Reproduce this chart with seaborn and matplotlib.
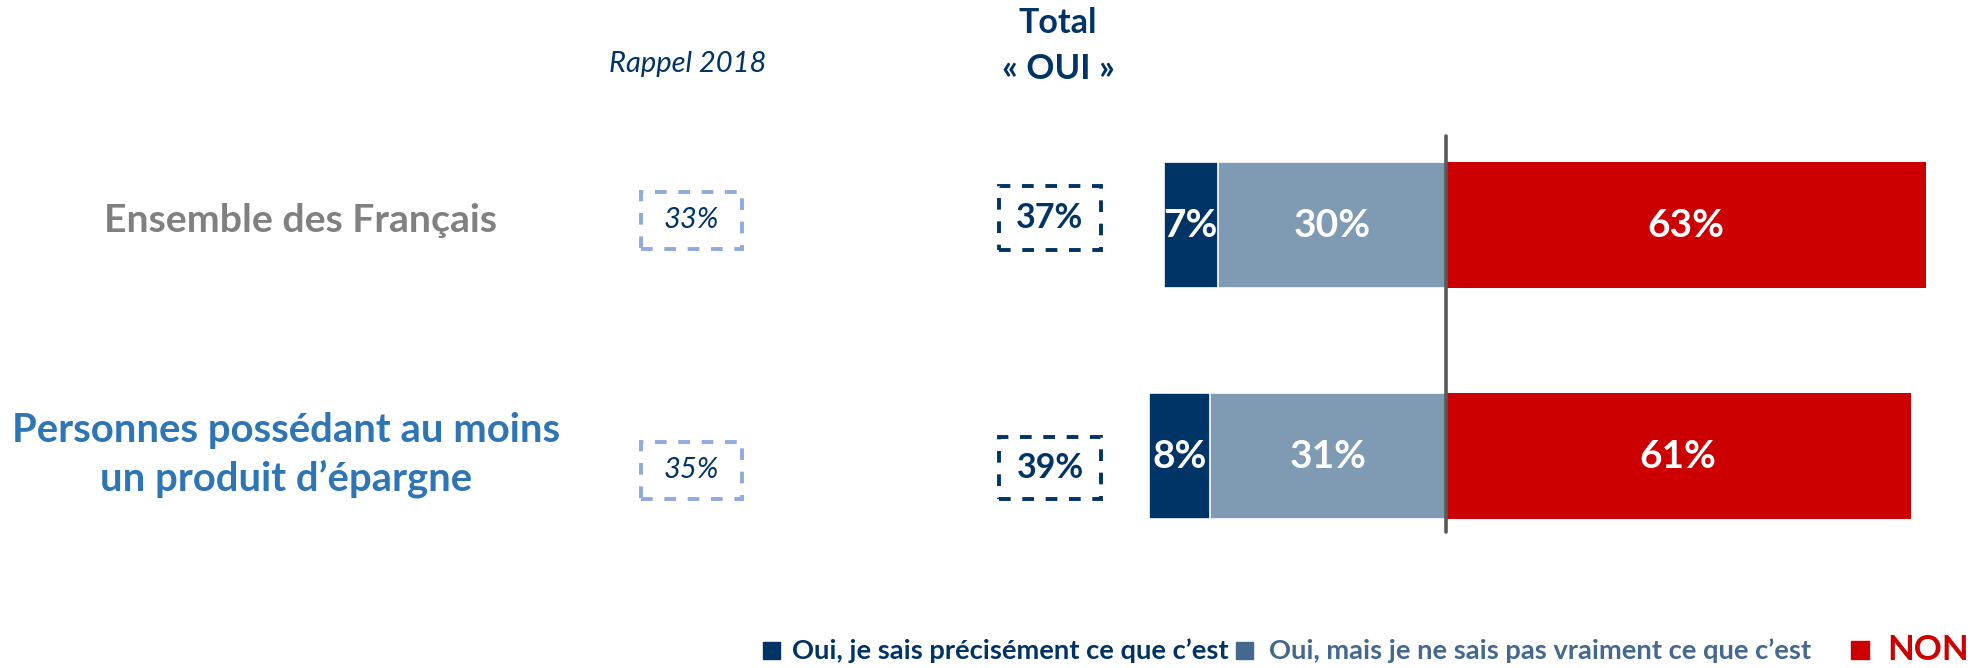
import matplotlib
matplotlib.use("Agg")
import matplotlib.pyplot as plt
import seaborn as sns
import pandas as pd
from matplotlib.patches import Rectangle

# ---- data ----
categories = ["Ensemble des Français", "Personnes possédant au moins\nun produit d’épargne"]
oui_precis = [7, 8]
oui_vague = [30, 31]
non = [63, 61]
total_oui = [37, 39]
rappel_2018 = [33, 35]
legend_labels = ["Oui, je sais précisément ce que c’est",
                 "Oui, mais je ne sais pas vraiment ce que c’est",
                 "NON"]

sns.set_theme(style="white")
plt.rcParams['font.family'] = ['Lato', 'DejaVu Sans']

NAVY = "#003366"
LIGHT = "#7F9AB3"
RED = "#CC0000"
GREY_LBL = "#808080"
BLUE_LBL = "#2E75B6"
BOX_LIGHT = "#8FAADC"
LEG2 = "#44688F"

W, H = 1980, 668
fig = plt.figure(figsize=(19.8, 6.68), dpi=100)
ax = fig.add_axes([0, 0, 1, 1])

df = pd.DataFrame({
    "cat": categories,
    "left_full": [-(a + b) for a, b in zip(oui_precis, oui_vague)],
    "left_light": [-b for b in oui_vague],
    "non": non,
})

bw = 0.545
sns.barplot(data=df, x="left_full", y="cat", orient="h", color=NAVY, saturation=1,
            width=bw, edgecolor="white", linewidth=1.2, ax=ax)
sns.barplot(data=df, x="left_light", y="cat", orient="h", color=LIGHT, saturation=1,
            width=bw, edgecolor="white", linewidth=1.2, ax=ax)
sns.barplot(data=df, x="non", y="cat", orient="h", color=RED, saturation=1,
            width=bw, linewidth=0, ax=ax)

zero_px = 1446.0
px_per_unit = 7.615
ax.set_xlim(-zero_px / px_per_unit, (W - zero_px) / px_per_unit)
c0, step = 225.0, 231.0
ax.set_ylim((H - c0) / step, -c0 / step)
ax.axis("off")

ax.axvline(0, ymin=1 - 532 / H, ymax=1 - 136 / H, color="#595959", lw=2.6, zorder=5)

# bar labels
for i in range(len(categories)):
    d, l, n = oui_precis[i], oui_vague[i], non[i]
    kw = dict(color="white", fontsize=28, fontweight="bold", ha="center", va="center", zorder=6)
    ax.text(-(l + d / 2), i, f"{d}%", **kw)
    ax.text(-l / 2, i, f"{l}%", **kw)
    ax.text(n / 2, i, f"{n}%", **kw)

def fx(x):
    return x / W

def fy(y):
    return 1 - y / H

# row labels
fig.text(fx(300), fy(221), "Ensemble des Français", color=GREY_LBL, fontsize=28.3,
         fontweight="bold", ha="center", va="center")
fig.text(fx(286), fy(455), "Personnes possédant au moins\nun produit d’épargne", color=BLUE_LBL,
         fontsize=28.8, fontweight="bold", ha="center", va="center", linespacing=1.33)

# headers
fig.text(fx(688), fy(64), "Rappel 2018", color=NAVY, fontsize=21, fontstyle="italic",
         ha="center", va="center")
fig.text(fx(1058), fy(23), "Total", color=NAVY, fontsize=24.5, fontweight="bold",
         ha="center", va="center")
fig.text(fx(1058), fy(69), "« OUI »", color=NAVY, fontsize=25, fontweight="bold",
         ha="center", va="center")

# dashed boxes
rappel_boxes = [(641, 192, 742, 249), (641, 442, 742, 499)]
total_boxes = [(999, 186, 1101, 250), (999, 437, 1101, 499)]
for i in range(2):
    x0, y0, x1, y1 = rappel_boxes[i]
    fig.patches.append(Rectangle((fx(x0), fy(y1)), fx(x1 - x0), (y1 - y0) / H,
                                 transform=fig.transFigure, fill=False, ec=BOX_LIGHT,
                                 lw=2.8, ls=(0, (3, 3))))
    fig.text(fx((x0 + x1) / 2), fy((y0 + y1) / 2), f"{rappel_2018[i]}%", color=NAVY,
             fontsize=21, fontstyle="italic", ha="center", va="center")
    x0, y0, x1, y1 = total_boxes[i]
    fig.patches.append(Rectangle((fx(x0), fy(y1)), fx(x1 - x0), (y1 - y0) / H,
                                 transform=fig.transFigure, fill=False, ec=NAVY,
                                 lw=2.8, ls=(0, (3, 3))))
    fig.text(fx((x0 + x1) / 2), fy((y0 + y1) / 2), f"{total_oui[i]}%", color=NAVY,
             fontsize=24.5, fontweight="bold", ha="center", va="center")

# legend
leg_y = 651
fig.patches.append(Rectangle((fx(763), fy(659)), fx(17), 17 / H, transform=fig.transFigure,
                             color=NAVY))
fig.text(fx(792), fy(leg_y), legend_labels[0], color=NAVY, fontsize=19.7, fontweight="bold",
         ha="left", va="center")
fig.patches.append(Rectangle((fx(1236), fy(659)), fx(17), 17 / H, transform=fig.transFigure,
                             color=LEG2))
fig.text(fx(1269), fy(leg_y), legend_labels[1], color=LEG2, fontsize=19.7, fontweight="bold",
         ha="left", va="center")
fig.patches.append(Rectangle((fx(1851), fy(659)), fx(18), 18 / H, transform=fig.transFigure,
                             color=RED))
fig.text(fx(1887), fy(leg_y - 1), legend_labels[2], color=RED, fontsize=25, fontweight="bold",
         ha="left", va="center")

fig.savefig("out.png", dpi=100, facecolor="white")
